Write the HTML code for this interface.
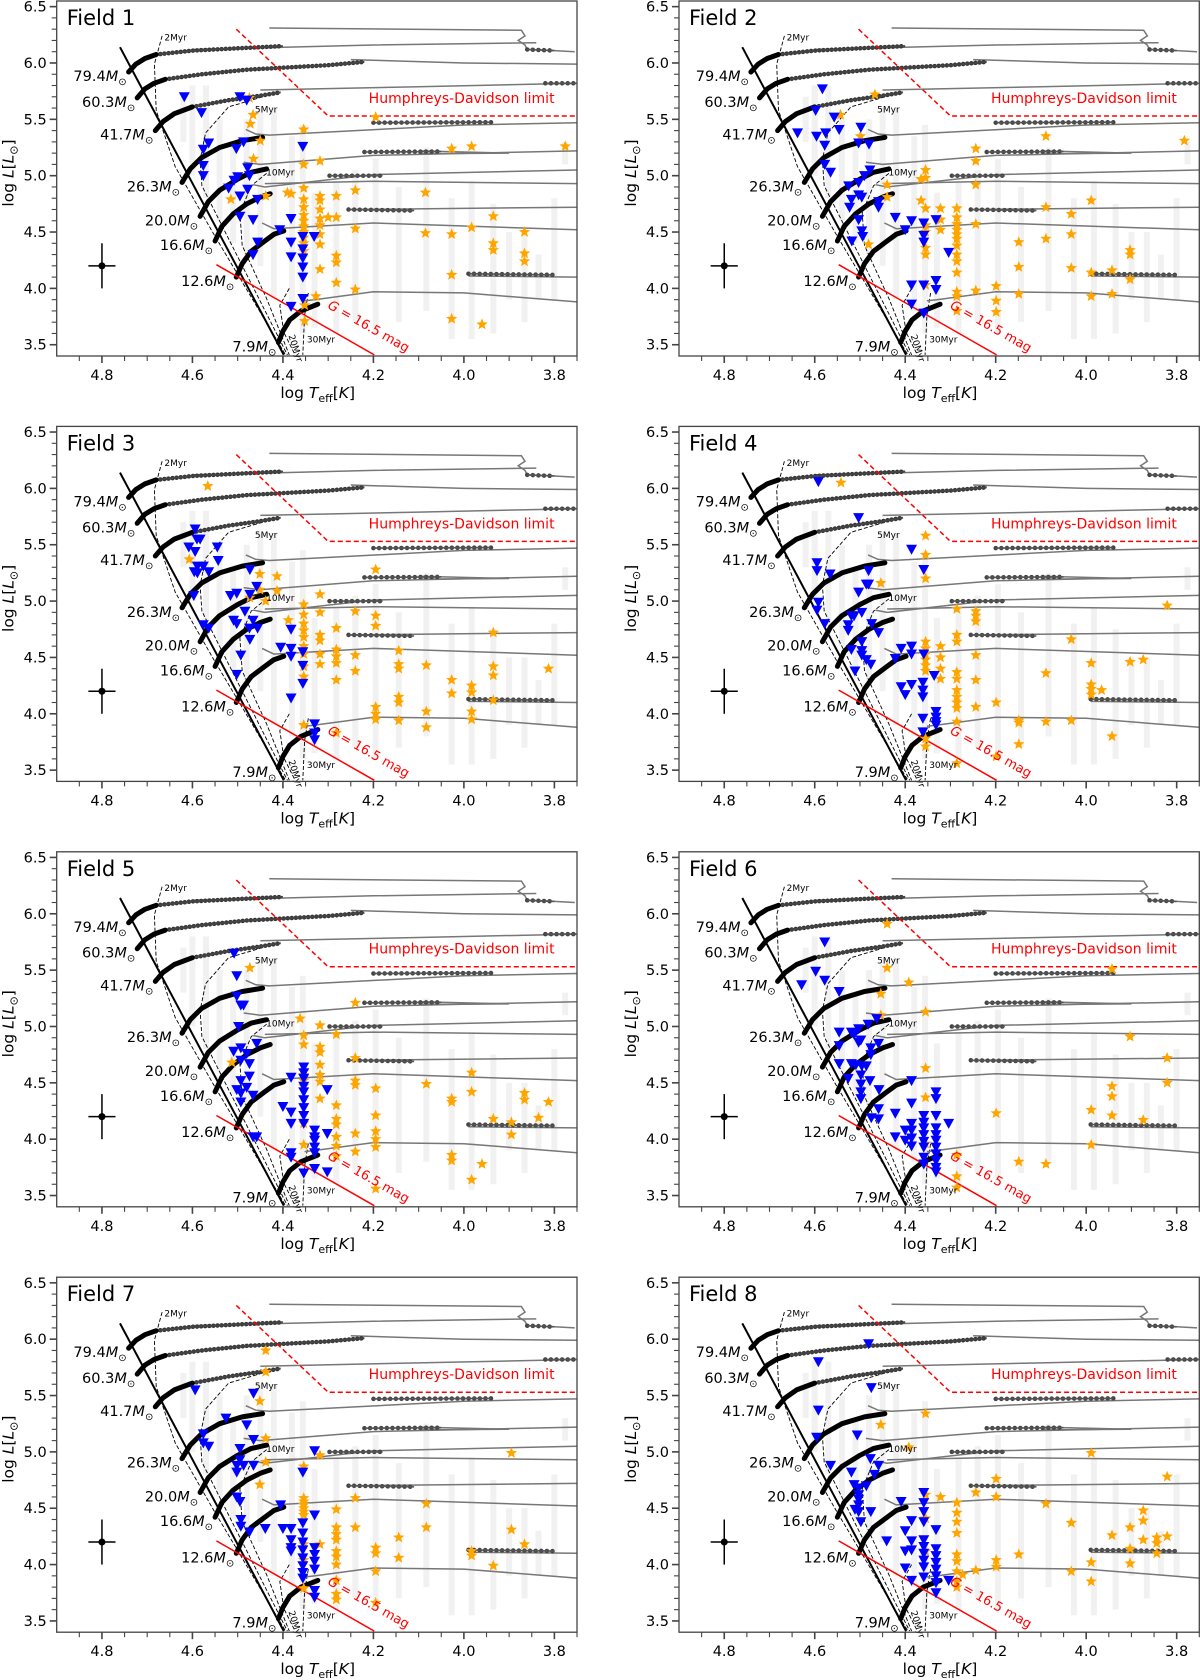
<!DOCTYPE html>
<html><head><meta charset="utf-8"><style>
html,body{margin:0;padding:0;background:#fff}
svg{display:block;font-family:"DejaVu Sans","Liberation Sans",sans-serif}
</style></head><body>
<svg id="fig" width="1200" height="1680" viewBox="0 0 1200 1680" xmlns="http://www.w3.org/2000/svg"></svg>
<script>
// ---------- data ----------
const fieldNames=["Field 1","Field 2","Field 3","Field 4","Field 5","Field 6","Field 7","Field 8"];
const xTicks=[4.8,4.6,4.4,4.2,4.0,3.8];
const yTicks=[3.5,4.0,4.5,5.0,5.5,6.0,6.5];
const massLabels=["79.4","60.3","41.7","26.3","20.0","16.6","12.6","7.9"];
const zamsStart=[[4.741,5.92],[4.722,5.69],[4.682,5.40],[4.623,4.94],[4.583,4.64],[4.55,4.42],[4.503,4.10],[4.41,3.52]];
const thickTracks=[
 [[4.741,5.92],[4.725,5.99],[4.705,6.04],[4.68,6.075]],
 [[4.722,5.69],[4.705,5.77],[4.685,5.82],[4.66,5.855]],
 [[4.682,5.40],[4.665,5.48],[4.64,5.55],[4.60,5.61]],
 [[4.623,4.94],[4.605,5.06],[4.58,5.16],[4.54,5.25],[4.49,5.31],[4.445,5.34]],
 [[4.583,4.64],[4.565,4.77],[4.54,4.87],[4.50,4.97],[4.47,5.03],[4.436,5.06]],
 [[4.55,4.42],[4.535,4.55],[4.51,4.66],[4.48,4.75],[4.45,4.81],[4.428,4.84]],
 [[4.503,4.10],[4.49,4.22],[4.47,4.33],[4.44,4.42],[4.42,4.48],[4.398,4.51]],
 [[4.41,3.52],[4.40,3.62],[4.385,3.72],[4.36,3.80],[4.323,3.86]]];
const denseTracks=[
 [[4.68,6.075],[4.6,6.11],[4.5,6.13],[4.4,6.15]],
 [[4.66,5.855],[4.58,5.90],[4.48,5.94],[4.30,5.98],[4.22,6.01]],
 [[4.60,5.61],[4.52,5.67],[4.45,5.71],[4.405,5.74]]];
const dottedTracks=[
 [[3.82,5.82],[3.752,5.82]],
 [[4.20,5.47],[3.94,5.475]],
 [[4.22,5.21],[4.05,5.215]],
 [[4.297,5.0],[4.18,5.0]],
 [[4.255,4.70],[4.11,4.69]],
 [[3.99,4.13],[3.80,4.12]],
 [[3.86,6.12],[3.80,6.11]]];
const thinTracks=[
 [[4.60,6.12],[4.2,6.16],[3.84,6.18]],
 [[4.43,6.31],[3.873,6.29],[3.865,6.24],[3.88,6.2],[3.865,6.16],[3.86,6.12],[3.80,6.11],[3.755,6.10]],
 [[4.25,6.03],[4.0,6.0],[3.75,5.99]],
 [[4.45,5.76],[4.1,5.79],[3.75,5.82]],
 [[4.482,5.41],[4.46,5.37],[4.43,5.36],[4.0,5.45],[3.75,5.47]],
 [[4.487,5.12],[4.45,5.10],[4.2,5.18],[3.75,5.22]],
 [[4.1,5.22],[3.90,5.20],[4.1,5.195]],
 [[4.466,4.92],[4.44,4.90],[4.2,5.01],[3.75,5.05]],
 [[4.44,4.93],[4.2,4.95],[3.75,4.93]],
 [[4.446,4.58],[4.42,4.53],[4.2,4.58],[3.75,4.52]],
 [[4.25,4.70],[3.75,4.72]],
 [[3.99,4.11],[3.75,4.10]],
 [[4.352,3.89],[4.33,3.90],[4.2,3.97],[4.0,3.96],[3.75,3.88]]];
const zamsLine=[[4.76,6.14],[4.398,3.41]];
const isochrones=[
 [[4.667,6.24],[4.684,5.99],[4.68,5.58],[4.638,5.08],[4.554,4.49],[4.394,3.41]],
 [[4.445,5.70],[4.52,5.61],[4.571,5.38],[4.583,5.14],[4.579,4.91],[4.52,4.44],[4.39,3.41]],
 [[4.436,5.02],[4.47,4.91],[4.495,4.67],[4.49,4.38],[4.436,3.91],[4.386,3.41]],
 [[4.386,4.0],[4.407,3.85],[4.398,3.61],[4.373,3.41]],
 [[4.344,3.96],[4.352,3.76],[4.356,3.41]]];
const ageLabels=["2Myr","5Myr","10Myr","20Myr","30Myr"];
const agePos=[[4.662,6.2],[4.462,5.56],[4.437,5.0],[4.388,3.58],[4.347,3.52]];
const hdLimit=[[4.503,6.30],[4.30,5.53],[3.75,5.53]];
const gLimit=[[4.547,4.21],[4.198,3.41]];
const bgCols=[[4.38,3.8,5.35],[4.356,3.6,5.45],[4.33,3.65,4.85],[4.282,3.6,4.95],[4.24,3.7,5.05],[4.195,3.6,5.15],[4.144,3.7,4.9],[4.083,3.8,5.25],[4.027,3.55,4.8],[3.983,3.55,4.95],[3.935,3.6,4.75],[3.90,3.9,4.5],[3.866,3.7,4.5],[3.835,3.9,4.3],[3.80,3.9,4.8],[3.776,5.1,5.3],[4.42,3.9,5.6],[4.45,4.2,5.6],[4.48,4.3,5.5],[4.51,4.4,5.3],[4.54,4.6,5.5],[4.57,4.8,5.8],[4.60,5.0,5.8],[4.62,5.3,5.7]];
const errT=[4.77,4.83];
const errL=[4.0,4.4];
const errCenter=[4.8,4.2];

const blue1=[[4.618,5.70],[4.58,5.56],[4.495,5.70],[4.48,5.67],[4.576,5.235],[4.564,5.29],[4.503,5.24],[4.487,5.30],[4.356,5.26],[4.576,5.09],[4.576,5.0],[4.52,4.89],[4.508,4.96],[4.5,4.99],[4.478,5.07],[4.474,5.0],[4.478,4.88],[4.495,4.82],[4.456,4.79],[4.495,4.64],[4.466,4.61],[4.407,4.52],[4.382,4.62],[4.456,4.41],[4.466,4.30],[4.382,4.41],[4.382,4.28],[4.356,4.46],[4.331,4.46],[4.356,4.35],[4.356,4.27],[4.356,4.19],[4.356,4.10],[4.382,3.84],[4.356,3.91]];
const star1=[[4.474,5.69],[4.466,5.54],[4.472,5.46],[4.45,5.31],[4.465,5.15],[4.438,4.82],[4.515,4.79],[4.39,4.85],[4.382,4.84],[4.354,5.41],[4.354,5.10],[4.354,4.89],[4.354,4.79],[4.354,4.72],[4.354,4.65],[4.354,4.60],[4.354,4.55],[4.354,4.50],[4.354,4.45],[4.354,4.40],[4.354,4.33],[4.318,5.13],[4.318,4.82],[4.318,4.78],[4.318,4.70],[4.318,4.62],[4.318,4.56],[4.318,4.48],[4.318,4.39],[4.318,4.17],[4.30,4.63],[4.282,4.82],[4.282,4.63],[4.282,4.29],[4.282,4.23],[4.282,4.05],[4.24,4.87],[4.24,4.53],[4.24,3.99],[4.195,5.52],[4.085,4.85],[4.085,4.49],[4.027,5.24],[4.027,4.48],[4.027,4.12],[4.027,3.73],[3.983,5.26],[3.983,4.54],[3.96,3.68],[3.935,4.64],[3.935,4.40],[3.935,4.34],[3.866,4.50],[3.866,4.31],[3.866,4.24],[3.776,5.26],[4.352,3.85],[4.352,3.71],[4.327,3.93]];
const blue2=[[4.583,5.77],[4.598,5.58],[4.638,5.38],[4.596,5.35],[4.576,5.38],[4.557,5.52],[4.546,5.41],[4.498,5.43],[4.578,5.27],[4.503,5.29],[4.48,5.28],[4.578,5.10],[4.565,5.03],[4.525,4.91],[4.503,4.94],[4.49,5.0],[4.478,5.05],[4.519,4.79],[4.523,4.72],[4.503,4.83],[4.496,4.81],[4.459,4.77],[4.459,4.72],[4.503,4.61],[4.496,4.51],[4.494,4.46],[4.518,4.42],[4.422,4.63],[4.4,4.52],[4.386,4.60],[4.359,4.58],[4.359,4.47],[4.359,4.41],[4.332,4.61],[4.304,4.32],[4.386,4.03],[4.359,4.03],[4.332,4.07],[4.332,3.99],[4.386,3.86],[4.359,3.78]];
const star2=[[4.467,5.72],[4.543,5.54],[4.499,5.35],[4.44,4.92],[4.44,4.81],[4.365,4.97],[4.355,5.05],[4.355,4.98],[4.365,4.78],[4.355,4.71],[4.355,4.56],[4.355,4.50],[4.355,4.36],[4.355,4.30],[4.355,4.03],[4.322,4.71],[4.322,4.61],[4.322,4.52],[4.286,4.71],[4.286,4.63],[4.286,4.57],[4.286,4.52],[4.286,4.48],[4.286,4.44],[4.286,4.38],[4.286,4.30],[4.286,4.24],[4.286,4.14],[4.286,3.97],[4.286,3.93],[4.286,3.80],[4.244,5.24],[4.244,5.13],[4.244,4.92],[4.244,4.57],[4.244,3.98],[4.199,4.02],[4.199,3.89],[4.199,3.79],[4.149,4.41],[4.149,4.19],[4.149,3.95],[4.089,5.35],[4.089,4.72],[4.089,4.44],[4.033,4.66],[4.033,4.48],[4.033,4.18],[3.989,4.78],[3.989,4.14],[3.989,3.93],[3.943,4.16],[3.943,3.95],[3.903,4.34],[3.903,4.30],[3.903,4.08],[3.783,5.31],[4.481,4.39]];
const blue3=[[4.594,5.64],[4.59,5.55],[4.583,5.55],[4.608,5.48],[4.594,5.44],[4.545,5.48],[4.543,5.36],[4.589,5.31],[4.576,5.31],[4.596,5.26],[4.589,5.25],[4.564,5.26],[4.473,5.28],[4.458,5.13],[4.597,5.05],[4.516,5.05],[4.502,5.07],[4.473,5.06],[4.484,4.91],[4.509,4.83],[4.502,4.80],[4.576,4.79],[4.564,4.76],[4.466,4.83],[4.474,4.76],[4.456,4.76],[4.473,4.66],[4.493,4.52],[4.502,4.35],[4.405,4.59],[4.382,4.58],[4.382,4.51],[4.382,4.75],[4.356,4.55],[4.356,4.43],[4.356,4.27],[4.382,4.14],[4.33,3.91],[4.33,3.83],[4.33,3.77]];
const star3=[[4.566,6.02],[4.607,5.37],[4.451,5.24],[4.413,5.22],[4.451,5.10],[4.413,5.09],[4.473,5.03],[4.438,5.0],[4.388,4.83],[4.354,4.97],[4.354,4.88],[4.354,4.80],[4.354,4.74],[4.354,4.68],[4.354,4.60],[4.354,4.53],[4.354,4.42],[4.354,4.33],[4.318,5.06],[4.318,4.90],[4.318,4.70],[4.318,4.65],[4.318,4.53],[4.318,4.44],[4.282,4.76],[4.282,4.57],[4.282,4.51],[4.282,4.45],[4.282,4.30],[4.282,3.83],[4.24,4.91],[4.24,4.52],[4.24,4.38],[4.195,5.28],[4.195,4.87],[4.195,4.78],[4.195,4.06],[4.195,4.0],[4.195,3.95],[4.144,4.56],[4.144,4.44],[4.144,4.40],[4.144,4.15],[4.144,4.10],[4.144,3.94],[4.083,4.43],[4.083,4.02],[4.083,3.88],[4.027,4.30],[4.027,4.18],[3.983,4.25],[3.983,4.19],[3.983,4.02],[3.983,3.95],[3.935,4.72],[3.935,4.42],[3.935,4.34],[3.935,4.12],[3.813,4.40],[4.354,3.90]];
const blue4=[[4.592,6.06],[4.503,5.74],[4.386,5.46],[4.359,5.28],[4.595,5.34],[4.595,5.27],[4.566,5.24],[4.481,5.27],[4.486,5.15],[4.481,5.15],[4.503,5.08],[4.592,4.99],[4.595,4.92],[4.578,4.80],[4.519,4.87],[4.513,4.87],[4.496,4.90],[4.526,4.79],[4.526,4.74],[4.474,4.80],[4.459,4.72],[4.496,4.64],[4.519,4.57],[4.496,4.56],[4.496,4.52],[4.486,4.48],[4.476,4.44],[4.511,4.38],[4.422,4.49],[4.409,4.58],[4.386,4.60],[4.386,4.53],[4.359,4.53],[4.336,4.34],[4.409,4.24],[4.4,4.17],[4.386,4.26],[4.361,4.28],[4.361,4.21],[4.361,4.15],[4.361,3.96],[4.332,4.02],[4.332,3.97],[4.332,3.93],[4.332,3.90],[4.361,3.84]];
const star4=[[4.542,6.05],[4.454,5.16],[4.355,5.58],[4.355,5.41],[4.355,5.2],[4.355,4.64],[4.355,4.58],[4.355,4.53],[4.355,4.48],[4.355,4.43],[4.355,4.38],[4.355,3.78],[4.355,3.71],[4.322,4.60],[4.322,4.50],[4.322,4.40],[4.322,4.31],[4.286,4.93],[4.286,4.70],[4.286,4.64],[4.286,4.37],[4.286,4.31],[4.286,4.21],[4.286,4.15],[4.286,4.10],[4.286,4.05],[4.286,3.93],[4.286,3.56],[4.244,4.91],[4.244,4.87],[4.244,4.82],[4.244,4.52],[4.244,4.30],[4.244,4.06],[4.199,4.10],[4.199,3.62],[4.149,3.94],[4.149,3.92],[4.149,3.73],[4.089,4.36],[4.089,3.93],[4.033,4.66],[4.033,3.94],[3.989,4.45],[3.989,4.26],[3.989,4.22],[3.989,4.17],[3.966,4.21],[3.943,3.80],[3.903,4.46],[3.874,4.48],[3.821,4.96]];
const blue5=[[4.508,5.65],[4.502,5.45],[4.502,5.27],[4.493,5.19],[4.487,5.19],[4.498,5.0],[4.509,4.78],[4.493,4.81],[4.48,4.76],[4.458,4.85],[4.493,4.70],[4.474,4.67],[4.474,4.56],[4.493,4.52],[4.48,4.46],[4.502,4.44],[4.493,4.41],[4.493,4.33],[4.466,4.39],[4.466,4.02],[4.458,4.02],[4.40,4.29],[4.382,4.55],[4.382,4.24],[4.382,4.14],[4.382,3.88],[4.382,3.84],[4.354,4.64],[4.354,4.59],[4.354,4.54],[4.354,4.47],[4.354,4.42],[4.354,4.35],[4.354,4.28],[4.354,4.21],[4.354,4.14],[4.33,4.08],[4.33,4.02],[4.33,3.99],[4.33,3.93],[4.33,3.88],[4.33,3.74],[4.302,4.44],[4.302,4.05],[4.302,3.71],[4.354,3.70]];
const star5=[[4.473,5.52],[4.513,4.68],[4.362,5.07],[4.354,4.92],[4.354,4.84],[4.354,4.60],[4.354,4.57],[4.354,4.52],[4.354,4.47],[4.354,4.14],[4.354,3.95],[4.318,5.01],[4.318,4.82],[4.318,4.77],[4.318,4.66],[4.318,4.57],[4.318,4.51],[4.318,4.36],[4.282,4.93],[4.282,4.30],[4.282,4.18],[4.282,4.13],[4.282,4.02],[4.282,3.94],[4.282,3.85],[4.24,5.21],[4.24,4.72],[4.24,4.52],[4.24,4.48],[4.24,4.05],[4.24,3.89],[4.195,4.45],[4.195,4.21],[4.195,4.07],[4.195,4.0],[4.195,3.93],[4.195,3.56],[4.083,4.49],[4.027,4.36],[4.027,4.33],[4.027,3.86],[4.027,3.81],[3.983,4.59],[3.983,4.42],[3.983,3.64],[3.96,3.78],[3.935,4.18],[3.895,4.15],[3.895,4.04],[3.866,4.41],[3.866,4.35],[3.835,4.19],[3.813,4.33]];
const blue6=[[4.578,5.75],[4.598,5.49],[4.578,5.41],[4.629,5.37],[4.546,5.31],[4.546,4.95],[4.519,4.95],[4.513,4.93],[4.503,4.98],[4.482,5.02],[4.463,5.07],[4.498,4.88],[4.503,4.86],[4.546,4.83],[4.476,4.81],[4.459,4.85],[4.476,4.75],[4.546,4.67],[4.519,4.67],[4.509,4.66],[4.496,4.65],[4.486,4.65],[4.526,4.54],[4.498,4.57],[4.498,4.49],[4.478,4.52],[4.498,4.42],[4.458,4.44],[4.498,4.36],[4.459,4.27],[4.475,4.19],[4.459,4.18],[4.422,4.23],[4.422,4.02],[4.40,4.08],[4.40,3.99],[4.386,4.52],[4.386,4.32],[4.386,4.14],[4.386,4.08],[4.386,4.01],[4.386,3.94],[4.359,4.21],[4.359,4.15],[4.359,4.10],[4.359,4.04],[4.359,3.98],[4.359,3.93],[4.359,3.84],[4.359,3.78],[4.332,4.42],[4.332,4.36],[4.332,4.21],[4.332,4.10],[4.332,4.04],[4.332,3.99],[4.332,3.93],[4.332,3.87],[4.332,3.81],[4.332,3.75],[4.332,3.71],[4.304,4.14]];
const star6=[[4.44,5.91],[4.44,5.52],[4.392,5.39],[4.454,5.29],[4.454,5.10],[4.355,5.13],[4.355,4.63],[4.355,4.37],[4.355,3.96],[4.286,3.86],[4.286,3.67],[4.286,3.57],[4.199,4.23],[4.149,3.80],[4.089,3.78],[3.989,4.26],[3.989,3.95],[3.943,5.51],[3.943,4.47],[3.943,4.38],[3.943,4.21],[3.903,4.91],[3.874,4.17],[3.821,4.72],[3.821,4.50]];
const blue7=[[4.594,5.55],[4.465,5.52],[4.526,5.30],[4.48,5.24],[4.576,5.16],[4.576,5.08],[4.564,5.05],[4.465,5.11],[4.495,5.03],[4.495,4.93],[4.502,4.88],[4.487,4.88],[4.465,4.88],[4.502,4.82],[4.33,5.01],[4.356,4.82],[4.502,4.60],[4.495,4.56],[4.493,4.40],[4.493,4.34],[4.474,4.29],[4.439,4.32],[4.405,4.53],[4.40,4.32],[4.382,4.32],[4.382,4.22],[4.382,4.15],[4.382,4.12],[4.356,4.37],[4.356,4.28],[4.356,4.2],[4.356,4.13],[4.356,4.06],[4.356,3.99],[4.356,3.93],[4.356,3.88],[4.33,4.44],[4.33,4.15],[4.33,4.09],[4.33,4.03],[4.33,3.96],[4.33,3.77],[4.33,3.71]];
const star7=[[4.438,5.90],[4.438,5.71],[4.451,5.45],[4.438,5.12],[4.438,4.91],[4.451,4.71],[4.318,4.97],[4.354,4.87],[4.354,4.59],[4.354,4.56],[4.354,4.53],[4.354,4.50],[4.354,4.47],[4.354,4.44],[4.354,4.18],[4.354,4.04],[4.354,3.79],[4.318,4.18],[4.282,4.49],[4.282,4.33],[4.282,4.27],[4.282,4.22],[4.282,4.12],[4.282,4.07],[4.282,4.0],[4.282,3.86],[4.282,3.74],[4.282,3.69],[4.24,4.59],[4.24,4.33],[4.195,4.15],[4.195,4.10],[4.195,3.94],[4.195,3.66],[4.144,4.24],[4.144,4.06],[4.083,4.54],[4.083,4.33],[3.983,4.12],[3.983,4.08],[3.935,3.99],[3.895,4.99],[3.895,4.31],[3.866,4.18]];
const blue8=[[4.481,5.96],[4.592,5.80],[4.475,5.57],[4.592,5.37],[4.596,5.13],[4.506,5.15],[4.565,4.88],[4.477,4.94],[4.459,4.88],[4.519,4.82],[4.513,4.71],[4.503,4.68],[4.503,4.62],[4.503,4.58],[4.503,4.53],[4.503,4.47],[4.486,4.70],[4.468,4.80],[4.511,4.49],[4.476,4.47],[4.498,4.38],[4.409,4.56],[4.441,4.21],[4.40,4.30],[4.386,4.39],[4.386,4.21],[4.40,4.12],[4.386,4.13],[4.40,3.97],[4.386,3.86],[4.359,4.64],[4.359,4.55],[4.359,4.47],[4.359,4.38],[4.359,4.22],[4.359,4.16],[4.359,4.10],[4.359,4.04],[4.359,3.98],[4.359,3.89],[4.332,4.31],[4.332,4.14],[4.332,4.08],[4.332,4.02],[4.332,3.96],[4.332,3.90],[4.332,3.84],[4.332,3.75],[4.304,3.86]];
const star8=[[4.454,5.24],[4.392,5.04],[4.355,5.34],[4.355,4.62],[4.355,4.41],[4.355,4.12],[4.322,4.60],[4.286,4.55],[4.286,4.46],[4.286,4.38],[4.286,4.28],[4.286,4.09],[4.286,4.03],[4.286,3.94],[4.286,3.85],[4.286,3.80],[4.273,3.91],[4.244,4.64],[4.244,3.95],[4.199,4.76],[4.199,4.60],[4.199,4.04],[4.199,3.98],[4.149,4.09],[4.089,4.54],[4.033,4.37],[4.033,3.94],[3.989,4.99],[3.989,4.02],[3.989,3.85],[3.943,4.26],[3.903,4.33],[3.903,4.14],[3.903,4.01],[3.874,4.48],[3.874,4.39],[3.874,4.22],[3.844,4.24],[3.844,4.19],[3.844,4.10],[3.821,4.78],[3.821,4.25]];
const blueSets=[blue1,blue2,blue3,blue4,blue5,blue6,blue7,blue8];
const starSets=[star1,star2,star3,star4,star5,star6,star7,star8];

// ---------- scales ----------
const NS="http://www.w3.org/2000/svg";
const svg=document.getElementById("fig");
const AX_W=520.3, AX_H=355, T_MAX=4.9, T_MIN=3.75, L_MIN=3.4, L_MAX=6.55;
function ox(i){return (i%2)?679:56.7;}
function oy(i){return Math.floor(i/2)*425.4+1;}
function sx(i,t){return ox(i)+(T_MAX-t)/(T_MAX-T_MIN)*AX_W;}
function sy(i,l){return oy(i)+(L_MAX-l)/(L_MAX-L_MIN)*AX_H;}
function mk(tag,attrs,parent){const e=document.createElementNS(NS,tag);for(const k in attrs)e.setAttribute(k,attrs[k]);(parent||svg).appendChild(e);return e;}
function pts(i,arr){return arr.map(p=>sx(i,p[0]).toFixed(1)+","+sy(i,p[1]).toFixed(1)).join(" ");}
function starPts(cx,cy,R,r){let s=[];for(let k=0;k<10;k++){const a=-Math.PI/2+k*Math.PI/5;const rr=k%2?r:R;s.push((cx+rr*Math.cos(a)).toFixed(1)+","+(cy+rr*Math.sin(a)).toFixed(1));}return s.join(" ");}

for(let i=0;i<8;i++){
  const g=mk("g",{});
  
  
  const cp=mk("clipPath",{id:"clip"+i},g);
  mk("rect",{x:ox(i),y:oy(i),width:AX_W,height:AX_H},cp);
  const plot=mk("g",{"clip-path":"url(#clip"+i+")"},g);
  
  

  for(const c of bgCols){
    const r=mk("rect",{x:sx(i,c[0])-3,y:sy(i,c[2]),width:6,height:sy(i,c[1])-sy(i,c[2]),fill:"#d4d4d4",opacity:0.32},plot);
    
    
  }
  isochrones.forEach((iso,k)=>{
    const l=mk("polyline",{points:pts(i,iso),fill:"none",stroke:"#000","stroke-width":0.9,"stroke-dasharray":"4 2"},plot);
    
    
  });
  for(const tr of thinTracks){
    const l=mk("polyline",{points:pts(i,tr),fill:"none",stroke:"#777","stroke-width":1.5},plot);
    
    
  }
  for(const tr of denseTracks){
    const l=mk("polyline",{points:pts(i,tr),fill:"none",stroke:"#333","stroke-width":4.5,"stroke-linecap":"round","stroke-dasharray":"0.1 4"},plot);
    
    
    const l2=mk("polyline",{points:pts(i,tr),fill:"none",stroke:"#444","stroke-width":2},plot);
    
    
  }
  for(const tr of dottedTracks){
    const l=mk("polyline",{points:pts(i,tr),fill:"none",stroke:"#444","stroke-width":4.5,"stroke-linecap":"round","stroke-dasharray":"0.1 5.5"},plot);
    
    
    const l2=mk("polyline",{points:pts(i,tr),fill:"none",stroke:"#555","stroke-width":1.6},plot);
    
    
  }
  for(const tr of thickTracks){
    const l=mk("polyline",{points:pts(i,tr),fill:"none",stroke:"#000","stroke-width":5,"stroke-linecap":"round","stroke-linejoin":"round"},plot);
    
    
  }
  const z=mk("polyline",{points:pts(i,zamsLine),fill:"none",stroke:"#000","stroke-width":2},plot);
  
  
  const hd=mk("polyline",{points:pts(i,hdLimit),fill:"none",stroke:"#ff0000","stroke-width":1.5,"stroke-dasharray":"5 3"},plot);
  
  
  const gl=mk("polyline",{points:pts(i,gLimit),fill:"none",stroke:"#ff0000","stroke-width":1.5},plot);
  
  
  for(const p of starSets[i]){
    const s=mk("polygon",{points:starPts(sx(i,p[0]),sy(i,p[1]),6,2.6),fill:"#ffa500"},plot);
    
    
  }
  for(const p of blueSets[i]){
    const x=sx(i,p[0]),y=sy(i,p[1]);
    const t=mk("polygon",{points:(x-5.5)+","+(y-4.5)+" "+(x+5.5)+","+(y-4.5)+" "+x+","+(y+5.5),fill:"#0000ff"},plot);
    
    
  }
  const eh=mk("line",{x1:sx(i,errT[0]),x2:sx(i,errT[1]),y1:sy(i,errCenter[1]),y2:sy(i,errCenter[1]),stroke:"#000","stroke-width":1.5},g);
  
  
  const ev=mk("line",{x1:sx(i,errCenter[0]),x2:sx(i,errCenter[0]),y1:sy(i,errL[0]),y2:sy(i,errL[1]),stroke:"#000","stroke-width":1.5},g);
  
  
  const ec=mk("circle",{cx:sx(i,errCenter[0]),cy:sy(i,errCenter[1]),r:3.5,fill:"#000"},g);
  
  

  massLabels.forEach((m,k)=>{
    const t=mk("text",{x:sx(i,zamsStart[k][0])-2,y:sy(i,zamsStart[k][1])+9,"text-anchor":"end","font-size":14.5,fill:"#000"},g);
    t.innerHTML=m+'<tspan font-style="italic">M</tspan><tspan font-size="10" dy="4">⊙</tspan>';
    
    
  });
  ageLabels.forEach((a,k)=>{
    const x=sx(i,agePos[k][0]),y=sy(i,agePos[k][1]);
    const t=mk("text",{x:x,y:y,"font-size":9,fill:"#000"},g);
    if(k===3)t.setAttribute("transform","rotate(72 "+x+" "+y+")");
    t.textContent=a;
    
    
  });
  const hdl=mk("text",{x:sx(i,4.005),y:sy(i,5.69)+5,"text-anchor":"middle","font-size":14,fill:"#ff0000"},g);
  hdl.textContent="Humphreys-Davidson limit";
  
  
  const gx=sx(i,4.215),gy=sy(i,3.63);
  const gt=mk("text",{x:gx,y:gy,"text-anchor":"middle","font-size":13,fill:"#ff0000",transform:"rotate(29.5 "+gx+" "+gy+")"},g);
  gt.innerHTML='<tspan font-style="italic">G</tspan> = 16.5 mag';
  
  
  const ft=mk("text",{x:ox(i)+10,y:oy(i)+24,"font-size":21,fill:"#000"},g);
  ft.textContent=fieldNames[i];
  
  

  const fr=mk("rect",{x:ox(i),y:oy(i),width:AX_W,height:AX_H,fill:"none",stroke:"#444","stroke-width":1.3},g);
  
  
  const yb=oy(i)+AX_H;
  for(let k=0;k<=22;k++){
    const t=4.85-k*0.05;
    if(t<T_MIN-0.001)break;
    const major=Math.abs((t*10)%2)<0.01||Math.abs((t*10)%2-2)<0.01;
    const tk=mk("line",{x1:sx(i,t),x2:sx(i,t),y1:yb,y2:yb+(major?7:5),stroke:"#444","stroke-width":major?1.6:1.1},g);
    
    
  }
  xTicks.forEach(v=>{
    const t=mk("text",{x:sx(i,v),y:yb+24,"text-anchor":"middle","font-size":14.5,fill:"#000"},g);
    t.textContent=v.toFixed(1);
    
    
  });
  for(let k=0;k<=31;k++){
    const l=3.5+k*0.1;
    if(l>L_MAX)break;
    const major=(k%5===0);
    const tk=mk("line",{x1:ox(i),x2:ox(i)-(major?7:5),y1:sy(i,l),y2:sy(i,l),stroke:"#444","stroke-width":major?1.6:1.1},g);
    
    
  }
  yTicks.forEach(v=>{
    const t=mk("text",{x:ox(i)-10,y:sy(i,v)+5,"text-anchor":"end","font-size":14.5,fill:"#000"},g);
    t.textContent=v.toFixed(1);
    
    
  });
  const xl=mk("text",{x:ox(i)+261,y:yb+42,"text-anchor":"middle","font-size":15.5,fill:"#000"},g);
  xl.innerHTML='log <tspan font-style="italic">T</tspan><tspan font-size="11" dy="4">eff</tspan><tspan dy="-4">[</tspan><tspan font-style="italic">K</tspan>]';
  
  
  const yx=ox(i)-43, yy=oy(i)+172;
  const yl=mk("text",{x:yx,y:yy,"text-anchor":"middle","font-size":15.5,fill:"#000",transform:"rotate(-90 "+yx+" "+yy+")"},g);
  yl.innerHTML='log <tspan font-style="italic">L</tspan>[<tspan font-style="italic">L</tspan><tspan font-size="11" dy="4">⊙</tspan><tspan dy="-4">]</tspan>';
  
  
}
</script>
</body></html>
